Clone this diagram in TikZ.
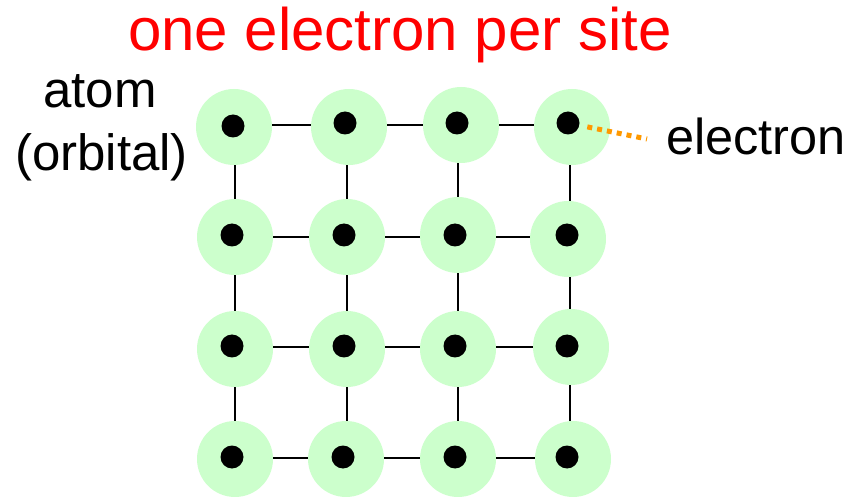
\documentclass[tikz,border=0pt]{standalone}
\usepackage{fontspec}
\setmainfont{Liberation Sans}
\definecolor{sitegreen}{RGB}{204,255,204}
\definecolor{eorange}{RGB}{255,153,0}
\tikzset{
  site/.style={circle,fill=sitegreen,minimum size=76pt,inner sep=0pt},
  elec/.style={circle,fill=black,minimum size=23pt,inner sep=0pt},
  bond/.style={line width=2pt,black},
  lbl/.style={anchor=base,inner sep=0pt,text=black}
}
\begin{document}
\begin{tikzpicture}[x=1pt,y=-1pt]
\useasboundingbox (0,0) rectangle (855,497);
% grid coordinates
\foreach \c/\x in {1/235,2/347,3/458,4/570}{
  \foreach \r/\y in {1/125,2/237,3/347,4/458}{
    \coordinate (g\r\c) at (\x,\y);
  }
}
% bonds
\foreach \r in {1,2,3,4}{
  \draw[bond] (g\r1) -- (g\r2) -- (g\r3) -- (g\r4);
  \draw[bond] (g1\r) -- (g2\r) -- (g3\r) -- (g4\r);
}
% sites (atoms / orbitals)
\foreach \n/\x/\y in {11/234/127,12/349/127,13/461/125,14/572/127,
                      21/235/237,22/347/237,23/458/235,24/568/239,
                      31/235/349,32/347/349,33/458/349,34/571/347,
                      41/235/459,42/346/459,43/458/459,44/573/459}{
  \node[site] (c\n) at (\x,\y) {};
}
% electrons
\foreach \n/\x/\y in {11/233/126,12/345/123,13/457/123,14/568/123,
                      21/232/235,22/344/235,23/455/235,24/567/235,
                      31/232/346,32/344/346,33/455/346,34/567/346,
                      41/232/457,42/343/457,43/455/457,44/567/457}{
  \node[elec] (d\n) at (\x,\y) {};
}
% pointer to electron
\coordinate (eend) at (647,139);
\draw[eorange,line width=5pt,dash pattern=on 5pt off 5pt,shorten <=8pt] (d14) -- (eend);
% labels
\node[lbl,text=red,font=\fontsize{60}{72}\selectfont] (title) at (400,51) {one electron per site};
\node[lbl,font=\fontsize{50.5}{60}\selectfont,anchor=base west] (elab) at (666,155) {electron};
\node[lbl,font=\fontsize{51}{62}\selectfont] (atom) at (100,108) {atom};
\node[lbl,font=\fontsize{51}{62}\selectfont] (orb) at (101.5,171) {(orbital)};
\end{tikzpicture}
\end{document}
